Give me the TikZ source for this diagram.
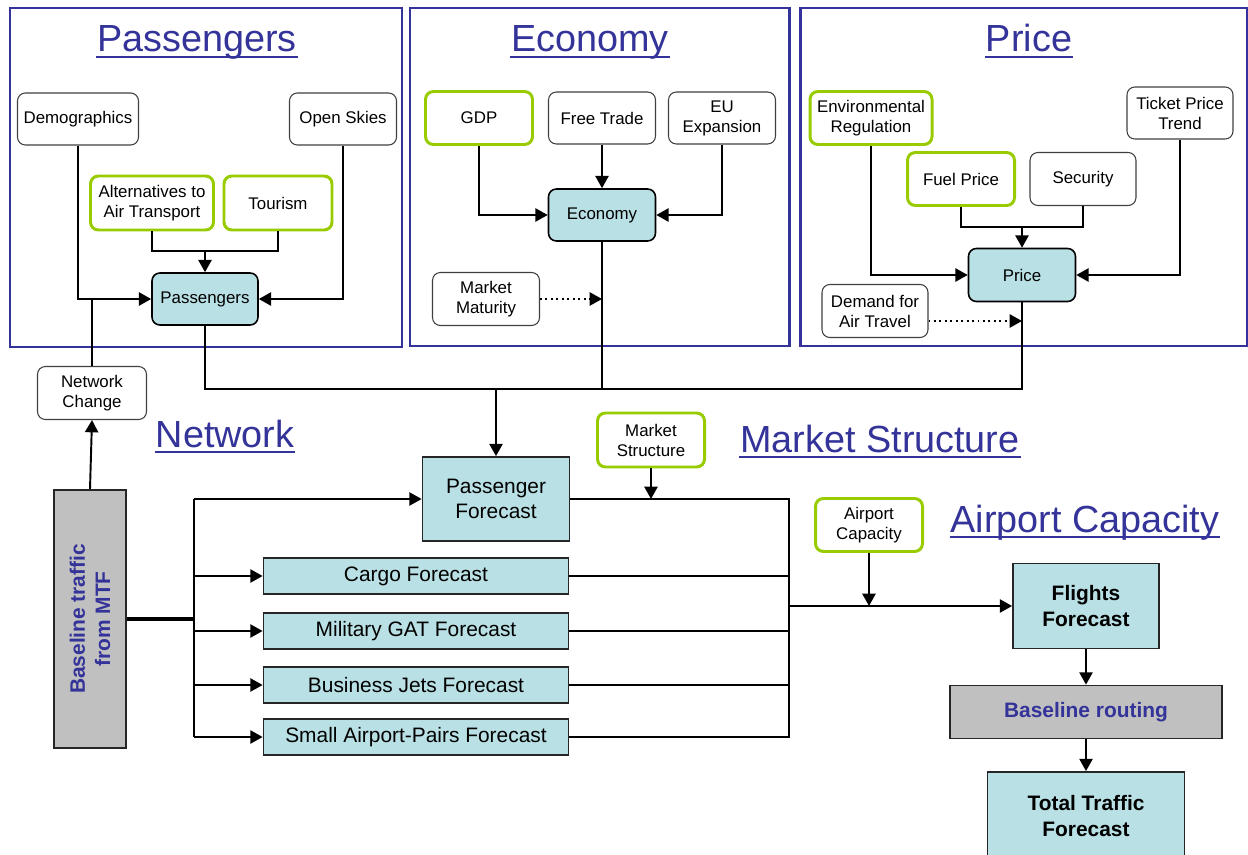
\documentclass[tikz,border=0pt]{standalone}
\usepackage{fontspec}
\setmainfont{Liberation Sans}
\usetikzlibrary{arrows.meta}
\definecolor{panelblue}{RGB}{51,51,153}
\definecolor{limegreen}{RGB}{153,204,0}
\definecolor{fcteal}{RGB}{185,224,228}
\definecolor{basegray}{RGB}{192,192,192}
\newcommand{\smallfnt}{\fontsize{9.6}{11.4}\selectfont}
\newcommand{\bigfnt}{\fontsize{11.9}{14.4}\selectfont}
\newcommand{\titlefnt}{\fontsize{21.5}{25}\selectfont}

\begin{document}
\begin{tikzpicture}[x=0.02cm, y=-0.02cm, line width=1.1pt,
  sz/.style 2 args={minimum width=#1*0.02cm, minimum height=#2*0.02cm},
  inbox/.style={draw=black!75, line width=0.6pt, rounded corners=4.5pt, fill=white, align=center, font=\smallfnt, inner sep=1pt},
  greenbox/.style={inbox, draw=limegreen, line width=1.7pt},
  tealbox/.style={inbox, fill=fcteal, draw=black, line width=0.9pt},
  fcbox/.style={draw=black!85, line width=1pt, fill=fcteal, align=center, font=\bigfnt, inner sep=1pt},
  graybox/.style={draw=black!85, line width=1pt, fill=basegray, align=center, inner sep=1pt},
  panel/.style={draw=panelblue, line width=1.7pt},
  title/.style={font=\titlefnt, text=panelblue, anchor=base, inner sep=0pt},
  uline/.style={panelblue, line width=1.4pt},
  arr/.style={-{Triangle[length=7pt, width=7.5pt]}}]
  \useasboundingbox (0,0) rectangle (1248,855);

  % panels and titles
  \draw[panel] (10,8) rectangle (402,347);
  \draw[panel] (410,8) rectangle (789,346);
  \draw[panel] (800,8) rectangle (1247,346);
  \node[title] (tpax) at (197,52) {Passengers};
  \node[title] (teco) at (590,52) {Economy};
  \node[title] (tprice) at (1029,52) {Price};
  \node[title] (tnet) at (225,447) {Network};
  \node[title] (tms) at (880,452) {Market Structure};
  \node[title] (tac) at (1085,532) {Airport Capacity};
  \foreach \t in {tpax, teco, tprice, tnet, tms, tac}
    \draw[uline] ([yshift=-0.1cm]\t.base west) -- ([yshift=-0.1cm]\t.base east);

  % passengers
  \node[inbox, sz={121}{52}] (demo) at (78,119) {Demographics};
  \node[inbox, sz={107}{52}] (open) at (343,119) {Open Skies};
  \node[greenbox, sz={123}{54}] (alt) at (152,203) {Alternatives to\\Air Transport};
  \node[greenbox, sz={108}{54}] (tour) at (278,203) {Tourism};
  \node[tealbox, sz={106}{52}] (pax) at (205,299) {Passengers};

  % economy
  \node[greenbox, sz={107}{53}] (gdp) at (479,118) {GDP};
  \node[inbox, sz={107}{52}] (free) at (602,118) {Free Trade};
  \node[inbox, sz={107}{52}] (eu) at (722,118) {EU\\Expansion};
  \node[tealbox, sz={107}{52}] (eco) at (602,215) {Economy};
  \node[inbox, sz={107}{53}] (mat) at (486,299) {Market\\Maturity};

  % price
  \node[greenbox, sz={122}{53}] (env) at (871,118) {Environmental\\Regulation};
  \node[inbox, sz={106}{52}] (tick) at (1180,113) {Ticket Price\\Trend};
  \node[greenbox, sz={107}{53}] (fuel) at (961,179) {Fuel Price};
  \node[inbox, sz={106}{53}] (sec) at (1083,179) {Security};
  \node[tealbox, sz={107}{53}] (price) at (1022,275) {Price};
  \node[inbox, sz={106}{53}] (dem) at (875,311) {Demand for\\Air Travel};

  % forecasts
  \node[inbox, sz={109}{53}] (net) at (92,393) {Network\\Change};
  \node[graybox, sz={72}{258}] (base) at (90,619) {};
  \node[rotate=90, align=center, font=\bigfnt\bfseries, text=panelblue] (basetxt) at (base) {Baseline traffic\\from MTF};
  \node[fcbox, sz={147}{84}] (pfc) at (496,499) {Passenger\\Forecast};
  \node[fcbox, sz={305}{36}] (cargo) at (416,576) {Cargo Forecast};
  \node[fcbox, sz={305}{36}] (mil) at (416,631) {Military GAT Forecast};
  \node[fcbox, sz={305}{36}] (bj) at (416,685) {Business Jets Forecast};
  \node[fcbox, sz={305}{36}] (sap) at (416,737) {Small Airport-Pairs Forecast};
  \node[greenbox, sz={107}{54}] (ms) at (651,440) {Market\\Structure};
  \node[greenbox, sz={107}{53}] (ac) at (869,525) {Airport\\Capacity};
  \node[fcbox, font=\bigfnt\bfseries, sz={146}{85}] (ff) at (1086,606) {Flights\\Forecast};
  \node[graybox, font=\bigfnt\bfseries, text=panelblue, sz={272}{53}] (route) at (1086,712) {Baseline routing};
  \node[fcbox, font=\bigfnt\bfseries, sz={197}{88}] (total) at (1086,816) {Total Traffic\\Forecast};

  % connectors in the panels
  \draw[arr] (demo.south) |- (pax.west);
  \draw[arr] (open.south) |- (pax.east);
  \coordinate (paxj) at (205,251);
  \draw (alt.south) |- (paxj) -| (tour.south);
  \draw[arr] (paxj) -- (pax.north);
  \draw (net.north) -- (net.north |- pax.west);
  \draw[arr] (gdp.south) |- (eco.west);
  \draw[arr] (free.south) -- (eco.north);
  \draw[arr] (eu.south) |- (eco.east);
  \draw[arr, dotted] (mat.east) -- (mat.east -| eco.south);
  \draw[arr] (env.south) |- (price.west);
  \draw[arr] (tick.south) |- (price.east);
  \coordinate (prj) at (1022,227);
  \draw (fuel.south) |- (prj) -| (sec.south);
  \draw[arr] (prj) -- (price.north);
  \draw[arr, dotted] ([yshift=-0.2cm]dem.east) -- ([yshift=-0.2cm]dem.east -| price.south);

  % to the forecasts
  \coordinate (hub) at (496,389);
  \draw (pax.south) |- (hub);
  \draw (eco.south) |- (hub);
  \draw (price.south) |- (hub);
  \draw[arr] (hub) -- (pfc.north);
  \draw[arr] (base.north) -- (net.south);
  \coordinate (lbus) at (194,619);
  \draw[line width=1.8pt] (base.east) -- (lbus);
  \draw (lbus |- pfc.west) -- (lbus |- sap.west);
  \foreach \f in {pfc, cargo, mil, bj, sap}
    \draw[arr] (lbus |- \f.west) -- (\f.west);
  \coordinate (rbus) at (789,606);
  \draw (pfc.east) -| (rbus |- sap.east) -- (sap.east);
  \foreach \f in {cargo, mil, bj}
    \draw (\f.east) -- (\f.east -| rbus);
  \draw[arr] (rbus) -- (ff.west);
  \draw[arr] (ms.south) -- (ms.south |- pfc.east);
  \draw[arr] (ac.south) -- (ac.south |- ff.west);
  \draw[arr] (ff.south) -- (route.north);
  \draw[arr] (route.south) -- (total.north);
\end{tikzpicture}
\end{document}
